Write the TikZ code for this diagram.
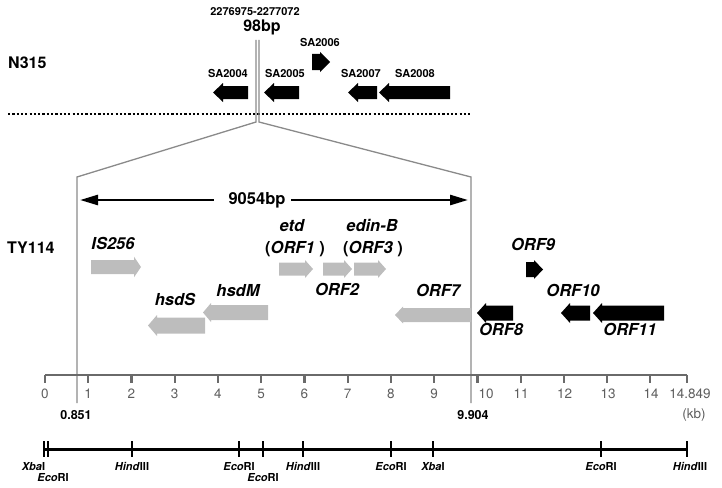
\documentclass[tikz,border=0pt]{standalone}
\usepackage{fontspec}
\setmainfont{TeX Gyre Heros}
\usetikzlibrary{arrows.meta}
\definecolor{garrow}{HTML}{BDBDBD}
\definecolor{gline}{HTML}{8A8A8A}
\definecolor{gaxis}{HTML}{6A6A6A}
\definecolor{gtext}{HTML}{5E5E5E}
% style, x tail, x tip, y centre, shaft half, head half, signed head length
\newcommand{\blockarrow}[7]{\fill[#1] (#2,{#4-#5}) -- ({#3-#7},{#4-#5}) -- ({#3-#7},{#4-#6}) -- (#3,#4) -- ({#3-#7},{#4+#6}) -- ({#3-#7},{#4+#5}) -- (#2,{#4+#5}) -- cycle;}
\begin{document}
\begin{tikzpicture}[x=1pt,y=-1pt,
  every node/.style={inner sep=0pt, text height=0.72em, text depth=0pt},
  strain/.style={font=\fontsize{16}{16}\selectfont\bfseries, anchor=west},
  salab/.style={font=\fontsize{11}{11}\selectfont\bfseries},
  genelab/.style={font=\fontsize{16.5}{16.5}\selectfont\bfseries\itshape},
  biglab/.style={font=\fontsize{16.5}{16.5}\selectfont\bfseries},
  ticklab/.style={font=\fontsize{13.5}{13.5}\selectfont, text=gtext},
  poslab/.style={font=\fontsize{12.5}{12.5}\selectfont\bfseries},
  relab/.style={font=\fontsize{11}{11}\selectfont\bfseries},
  conn/.style={draw=gline, line width=1.3pt},
  dimarrow/.style={line width=2.6pt, -{Triangle[length=18pt,width=10pt]}},
  axisline/.style={draw=gaxis, line width=2.9pt},
  axistick/.style={draw=gaxis, line width=2.2pt},
  reline/.style={draw=black, line width=3pt},
  retick/.style={draw=black, line width=2.2pt}]
\useasboundingbox (0,0) rectangle (722,487);

% ---------- N315 ----------
\node[strain] (n315) at (8,65) {N315};
\node[salab] (coord) at (255,12) {2276975-2277072};
\node[font=\fontsize{16}{16}\selectfont\bfseries] (bp98) at (262,28) {98bp};
\draw[line width=2.3pt, dash pattern=on 2.2pt off 2.1pt] (8,114) -- (470,114);

\blockarrow{black}{248}{213}{92.5}{6.5}{9.5}{-10}
\blockarrow{black}{299}{264}{92.5}{6.5}{9.5}{-10}
\blockarrow{black}{312}{330}{62}{8}{10}{10}
\blockarrow{black}{377}{348}{92.5}{6.5}{9.5}{-10}
\blockarrow{black}{450}{379}{92.5}{6.5}{9.5}{-10}
\node[salab] (sa2004) at (228,74) {SA2004};
\node[salab] (sa2005) at (285,74) {SA2005};
\node[salab] (sa2006) at (320,43) {SA2006};
\node[salab] (sa2007) at (361,74) {SA2007};
\node[salab] (sa2008) at (415,74) {SA2008};

% ---------- insertion connectors ----------
\coordinate (t1) at (256,40);
\coordinate (t2) at (259,40);
\coordinate (b1) at (256,122);
\coordinate (b2) at (259,122);
\coordinate (l1) at (77,177);
\coordinate (l2) at (77,403);
\coordinate (r1) at (471,177);
\coordinate (r2) at (471,403);
\draw[conn] (t1) -- (b1) -- (l1) -- (l2);
\draw[conn] (t2) -- (b2) -- (r1) -- (r2);

% ---------- TY114 ----------
\node[strain] (ty114) at (7,250) {TY114};
\node[biglab] (len) at (257,201) {9054bp};
\coordinate (aL) at (80,200);
\coordinate (aR) at (468,200);
\draw[dimarrow] ([xshift=-14.5pt]len.west |- aL) -- (aL);
\draw[dimarrow] ([xshift=5.5pt]len.east |- aR) -- (aR);

% grey genes
\blockarrow{garrow}{91}{141}{267}{7}{10.3}{7}
\blockarrow{garrow}{279}{313}{269}{6.5}{9}{8}
\blockarrow{garrow}{323}{352}{269}{6.5}{9}{8}
\blockarrow{garrow}{354}{386}{269}{6.5}{9}{8}
\blockarrow{garrow}{268}{203}{312.5}{7.5}{9.5}{-8}
\blockarrow{garrow}{205}{148}{325.5}{8}{10.5}{-9}
\blockarrow{garrow}{471}{395}{315}{7}{8.5}{-8}
% black genes
\blockarrow{black}{526}{543}{269.5}{7.5}{9.5}{9}
\blockarrow{black}{513}{477}{313}{7.5}{10}{-9}
\blockarrow{black}{590}{561}{313}{7.5}{10}{-9}
\blockarrow{black}{664}{593}{313}{7.5}{10}{-9}

\node[genelab] (is256) at (113,246) {IS256};
\node[genelab] (etd) at (292,228) {etd};
\node[genelab] (orf1) at (295,250) {{\upshape(}ORF1{\upshape\ )}};
\node[genelab] (edinb) at (372,228) {edin-B};
\node[genelab] (orf3) at (373,250) {{\upshape(}ORF3{\upshape\ )}};
\node[genelab] (orf2) at (337,292) {ORF2};
\node[genelab] (hsdm) at (238,293) {hsdM};
\node[genelab] (hsds) at (175,302) {hsdS};
\node[genelab] (orf7) at (438,293) {ORF7};
\node[genelab] (orf9) at (533,247) {ORF9};
\node[genelab] (orf8) at (501,332) {ORF8};
\node[genelab] (orf10) at (573,293) {ORF10};
\node[genelab] (orf11) at (630,332) {ORF11};

% ---------- kb scale ----------
\draw[axisline] (45,375) -- (687,375);
\foreach \i in {0,...,14} {
  \draw[axistick] ({45+\i*43.24},375) -- ({45+\i*43.24},383);
}
\draw[axistick] (687,375) -- (687,383);
\foreach \i in {0,...,9} {
  \node[ticklab] (k\i) at ({45+\i*43.24},395) {\i};
}
\node[ticklab] (k10) at (486,395) {10};
\node[ticklab] (k11) at (521,395) {11};
\node[ticklab] (k12) at (564.5,395) {12};
\node[ticklab] (k13) at (608,395) {13};
\node[ticklab] (k14) at (651,395) {14};
\node[ticklab] (kend) at (690,395) {14.849};
\node[ticklab] (kb) at (694,415) {(kb)};
\node[poslab] (p1) at (76,416) {0.851};
\node[poslab] (p2) at (473,416) {9.904};

% ---------- restriction map ----------
\draw[reline] (44,449) -- (687,449);
\foreach \x in {44,48,132,239,263,303,391,433,601,687} {
  \draw[retick] (\x,441) -- (\x,457);
}
\node[relab] (x1) at (33.5,467) {\textit{Xba}I};
\node[relab] (e1) at (53,478) {\textit{Eco}RI};
\node[relab] (h1) at (132,467) {\textit{Hind}III};
\node[relab] (e2) at (239,467) {\textit{Eco}RI};
\node[relab] (e3) at (263,478) {\textit{Eco}RI};
\node[relab] (h2) at (303,467) {\textit{Hind}III};
\node[relab] (e4) at (391,467) {\textit{Eco}RI};
\node[relab] (x2) at (433,467) {\textit{Xba}I};
\node[relab] (e5) at (601,467) {\textit{Eco}RI};
\node[relab] (h3) at (690,467) {\textit{Hind}III};
\end{tikzpicture}
\end{document}
